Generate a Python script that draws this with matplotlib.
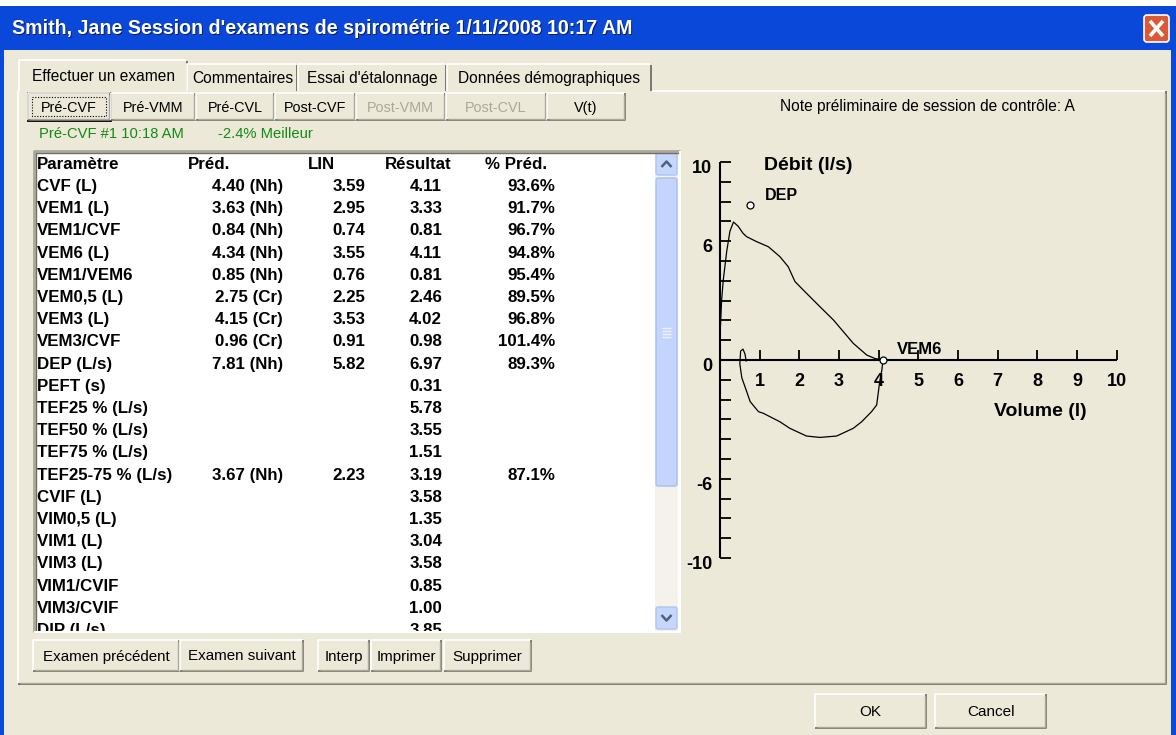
import numpy as np
import matplotlib.pyplot as plt
from matplotlib.patches import Rectangle, FancyBboxPatch

plt.rcParams['font.family'] = ['Liberation Sans', 'DejaVu Sans']

W, H = 1176, 735
BEIGE = '#ECE9D8'

title = "Smith, Jane Session d'examens de spirométrie 1/11/2008 10:17 AM"
tab_labels = ['Effectuer un examen', 'Commentaires', "Essai d'étalonnage", 'Données démographiques']
test_buttons = ['Pré-CVF', 'Pré-VMM', 'Pré-CVL', 'Post-CVF', 'Post-VMM', 'Post-CVL', 'V(t)']
test_enabled = [True, True, True, True, False, False, True]
bottom_buttons = ['Examen précédent', 'Examen suivant', 'Interp', 'Imprimer', 'Supprimer']

# result table
headers = ['Paramètre', 'Préd.', 'LIN', 'Résultat', '% Préd.']
params = ['CVF (L)', 'VEM1 (L)', 'VEM1/CVF', 'VEM6 (L)', 'VEM1/VEM6', 'VEM0,5 (L)', 'VEM3 (L)',
          'VEM3/CVF', 'DEP (L/s)', 'PEFT (s)', 'TEF25 % (L/s)', 'TEF50 % (L/s)', 'TEF75 % (L/s)',
          'TEF25-75 % (L/s)', 'CVIF (L)', 'VIM0,5 (L)', 'VIM1 (L)', 'VIM3 (L)', 'VIM1/CVIF',
          'VIM3/CVIF', 'DIP (L/s)']
pred = ['4.40 (Nh)', '3.63 (Nh)', '0.84 (Nh)', '4.34 (Nh)', '0.85 (Nh)', '2.75 (Cr)', '4.15 (Cr)',
        '0.96 (Cr)', '7.81 (Nh)', '', '', '', '', '3.67 (Nh)', '', '', '', '', '', '', '']
lin = ['3.59', '2.95', '0.74', '3.55', '0.76', '2.25', '3.53', '0.91', '5.82', '', '', '', '',
       '2.23', '', '', '', '', '', '', '']
result = ['4.11', '3.33', '0.81', '4.11', '0.81', '2.46', '4.02', '0.98', '6.97', '0.31', '5.78',
          '3.55', '1.51', '3.19', '3.58', '1.35', '3.04', '3.58', '0.85', '1.00', '3.85']
pct = ['93.6%', '91.7%', '96.7%', '94.8%', '95.4%', '89.5%', '96.8%', '101.4%', '89.3%', '', '', '',
       '', '87.1%', '', '', '', '', '', '', '']

# flow-volume loop (volume l, flow l/s)
exp_vol = [0, 0.0, 0.04, 0.08, 0.17, 0.25, 0.34, 0.46, 0.58, 0.67, 0.92, 1.22, 1.51, 1.72, 1.89,
           2.18, 2.52, 2.86, 3.11, 3.36, 3.70, 3.90, 4.11]
exp_flow = [0, 1.2, 3.0, 4.0, 5.5, 6.5, 6.97, 6.75, 6.4, 6.23, 5.98, 5.72, 5.22, 4.71, 3.96,
            3.37, 2.69, 2.02, 1.43, 0.84, 0.25, 0.08, 0.0]
insp_vol = [4.11, 4.08, 4.02, 3.95, 3.82, 3.57, 3.36, 2.94, 2.52, 2.18, 1.76, 1.51, 1.09, 0.97,
            0.76, 0.63, 0.55, 0.50, 0.52, 0.58, 0.63, 0.66]
insp_flow = [0.0, -0.5, -1.18, -2.27, -2.61, -3.12, -3.45, -3.84, -3.91, -3.84, -3.45, -3.12,
             -2.69, -2.61, -2.1, -1.35, -0.9, -0.2, 0.45, 0.55, 0.3, -0.05]
dep_point = (0.76, 7.81)
vem6_point = (4.11, 0.0)
x_ticks = list(range(1, 11))
y_ticklabels = [10, 6, 0, -6, -10]

fig = plt.figure(figsize=(W / 100, H / 100), dpi=100)
fig.patch.set_facecolor('white')
bg = fig.add_axes([0, 0, 1, 1])
bg.axis('off')


def line(xs, ys, color, lw=1.0, **kw):
    bg.plot(xs, ys, color=color, lw=lw, solid_capstyle='butt', **kw)


def button(x0, x1, y0, y1, label, size=10.4, color='black'):
    bg.add_patch(Rectangle((x0, y0), x1 - x0, y1 - y0, facecolor=BEIGE, edgecolor='none'))
    line([x0, x0, x1], [y1, y0, y0], 'white', 1.2)
    line([x0, x1, x1], [y1, y1, y0], '#716F64', 1.2)
    line([x0 + 1.5, x1 - 1.5, x1 - 1.5], [y1 - 1.5, y1 - 1.5, y0 + 1.5], '#ACA899', 1.0)
    bg.text((x0 + x1) / 2, (y0 + y1) / 2 + 1, label, ha='center', va='center',
            fontsize=size, color=color)


# window frame and body
bg.add_patch(Rectangle((0, 6), W, H - 6, facecolor='#0A48DA', edgecolor='none'))
bg.add_patch(Rectangle((4, 50), W - 9, H - 50, facecolor=BEIGE, edgecolor='none'))
grad = np.array([[0.55], [0.35], [0.2], [0.1], [0.05], [0.0], [0.0], [0.02], [0.06], [0.12]])
cmap = plt.matplotlib.colors.LinearSegmentedColormap.from_list('xp', ['#0050E0', '#5DA2FF'])
bg.imshow(grad, extent=(0, W, 50, 6), cmap=cmap, vmin=0, vmax=1, aspect='auto',
          interpolation='bicubic')
bg.text(13, 29, title, ha='left', va='center', fontsize=14.1, fontweight='bold',
        color='#0A1E6E')
bg.text(12, 28, title, ha='left', va='center', fontsize=14.1, fontweight='bold', color='white')

# close button
bg.add_patch(FancyBboxPatch((1144, 15), 25, 27, boxstyle='round,pad=0,rounding_size=3',
                            facecolor='#DA5A36', edgecolor='white', lw=1.2))
line([1150, 1163], [21, 36], 'white', 2.6)
line([1150, 1163], [36, 21], 'white', 2.6)

# tab panel
px0, px1, py0, py1 = 18, 1166, 91, 684
line([px0, px0, px1], [py1, py0, py0], 'white', 1.3)
line([px0, px1, px1], [py1, py1, py0], '#716F64', 1.3)
line([px0 + 1.5, px1 - 1.5, px1 - 1.5], [py1 - 1.5, py1 - 1.5, py0 + 1.5], '#ACA899', 1.0)

tab_edges = [20, 187, 298, 447, 652]
for i, lab in enumerate(tab_labels):
    x0, x1 = tab_edges[i], tab_edges[i + 1]
    top = 60 if i == 0 else 64
    if i == 0:
        x0, x1 = x0 - 1, x1 + 1
    bg.add_patch(Rectangle((x0, top), x1 - x0, py0 - top + 0.8, facecolor=BEIGE, edgecolor='none',
                           zorder=3))
    line([x0, x0, x1 - 2], [py0, top, top], 'white', 1.3, zorder=3)
    line([x1 - 1, x1 - 1], [top + 1, py0], '#716F64', 1.3, zorder=3)
    bg.text((x0 + x1) / 2, (top + py0) / 2 + 1, lab, ha='center', va='center', fontsize=11.2,
            zorder=4)

# test buttons
btn_edges = [28, 111, 196, 275, 356, 446, 547, 626]
for i, lab in enumerate(test_buttons):
    button(btn_edges[i], btn_edges[i + 1] - 1, 93, 120, lab,
           color='black' if test_enabled[i] else '#ACA899')
bg.add_patch(Rectangle((27.5, 92.5), 83, 28, facecolor='none', edgecolor='black', lw=1.3))
bg.add_patch(Rectangle((32, 97), 74, 19, facecolor='none', edgecolor='black', lw=0.8,
                       linestyle=(0, (1, 1.5))))

bg.text(780, 106, 'Note préliminaire de session de contrôle: A', ha='left', va='center',
        fontsize=11.2)
bg.text(39, 134, 'Pré-CVF #1 10:18 AM', ha='left', va='center', fontsize=10.6, color='#138A13')
bg.text(218, 134, '-2.4% Meilleur', ha='left', va='center', fontsize=10.6, color='#138A13')

# result table
tx0, tx1, ty0, ty1 = 34, 680, 151, 632
bg.add_patch(Rectangle((tx0, ty0), tx1 - tx0, ty1 - ty0, facecolor='white', edgecolor='none'))
clip = Rectangle((tx0, ty0), tx1 - tx0, 630.5 - ty0, facecolor='none', edgecolor='none',
                 transform=bg.transData)
line([tx0, tx0, tx1], [ty1, ty0, ty0], '#ACA899', 2.0)
line([tx0 + 1.5, tx0 + 1.5, tx1], [ty1, ty0 + 1.5, ty0 + 1.5], '#716F64', 1.0)
line([tx0, tx1, tx1], [ty1, ty1, ty0], 'white', 1.5)

col_x = [37, 283, 365, 442, 555]
col_ha = ['left', 'right', 'right', 'right', 'right']
head_x = [37, 188, 308, 385, 485]
for hx, h in zip(head_x, headers):
    bg.text(hx, 164, h, ha='left', va='center', fontsize=12.2, fontweight='bold')
for i, row in enumerate(zip(params, pred, lin, result, pct)):
    y = 186.5 + 22.2 * i
    for cx, ha, val in zip(col_x, col_ha, row):
        t = bg.text(cx, y, val, ha=ha, va='center', fontsize=12.2, fontweight='bold',
                    clip_on=True)
        t.set_clip_path(clip)

# scroll bar
bg.add_patch(Rectangle((655, 152), 23, 479, facecolor='#F4F2EA', edgecolor='none'))
for (y0, y1) in [(153, 175), (607, 629)]:
    bg.add_patch(FancyBboxPatch((656, y0), 21, y1 - y0, boxstyle='round,pad=0,rounding_size=2',
                                facecolor='#C6D6FC', edgecolor='#AFC4F2', lw=1))
line([661.5, 666.5, 671.5], [167, 161.5, 167], '#4D6185', 1.8)
line([661.5, 666.5, 671.5], [615, 620.5, 615], '#4D6185', 1.8)
bg.add_patch(FancyBboxPatch((656, 178), 21, 308, boxstyle='round,pad=0,rounding_size=2',
                            facecolor='#C3D5FC', edgecolor='#A9BEF0', lw=1))
for gy in [328, 331, 334, 337]:
    line([662, 671], [gy, gy], '#EEF3FF', 1.0)

# bottom buttons
bb_edges = [(33, 179), (180, 303), (318, 369), (371, 441), (444, 531)]
for (x0, x1), lab in zip(bb_edges, bottom_buttons):
    button(x0, x1, 640, 671, lab, size=10.9)
button(815, 926, 694, 728, 'OK', size=11)
button(935, 1046, 694, 728, 'Cancel', size=11)

bg.set_xlim(0, W)
bg.set_ylim(H, 0)

# flow-volume chart
ox, oy, sx, sy = 720, 360, 39.67, 19.8
ax = fig.add_axes([680 / W, (H - 600) / H, 480 / W, 460 / H])
ax.set_xlim((680 - ox) / sx, (1160 - ox) / sx)
ax.set_ylim((oy - 600) / sy, (oy - 140) / sy)
ax.axis('off')
ax.plot([0, 0], [-10, 10], color='black', lw=1.5, solid_capstyle='butt')
ax.plot([0, 10], [0, 0], color='black', lw=1.5, solid_capstyle='butt')
for v in range(-10, 11):
    ax.plot([0, 0.27], [v, v], color='black', lw=1.3, solid_capstyle='butt')
for v in x_ticks:
    ax.plot([v, v], [0, 0.5], color='black', lw=1.3, solid_capstyle='butt')
    ax.text(v, -1.1, str(v), ha='center', va='center', fontsize=13, fontweight='bold')
for v in y_ticklabels:
    ax.text(-0.2, v - 0.33, str(v), ha='right', va='center', fontsize=13, fontweight='bold')

ax.plot(exp_vol, exp_flow, color='black', lw=0.9)
ax.plot(insp_vol, insp_flow, color='black', lw=0.9)
ax.plot(*dep_point, marker='o', ms=5, mfc='white', mec='black', mew=0.9)
ax.plot(*vem6_point, marker='o', ms=5, mfc='white', mec='black', mew=0.9)
ax.text(1.1, 9.8, 'Débit (l/s)', ha='left', va='center', fontsize=14, fontweight='bold')
ax.text(1.14, 8.3, 'DEP', ha='left', va='center', fontsize=11.5, fontweight='bold')
ax.text(4.45, 0.55, 'VEM6', ha='left', va='center', fontsize=12, fontweight='bold')
ax.text(6.9, -2.6, 'Volume (l)', ha='left', va='center', fontsize=14, fontweight='bold')

fig.savefig('out.png', dpi=100)
